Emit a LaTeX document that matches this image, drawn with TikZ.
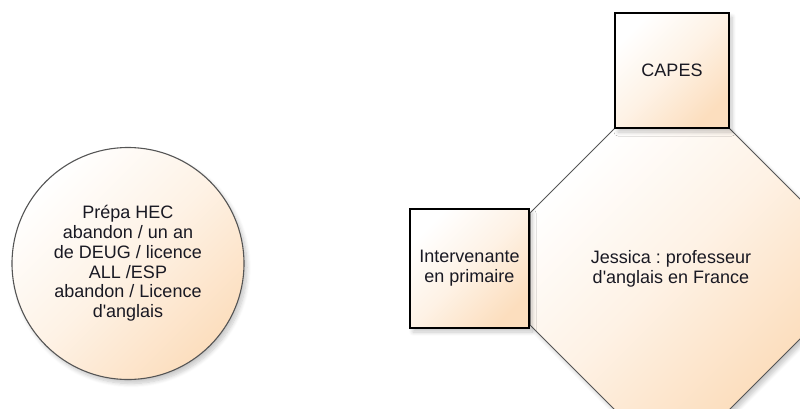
\documentclass[tikz,border=0pt]{standalone}
\usepackage{fontspec}
\setmainfont{Liberation Sans}
\usetikzlibrary{shadows.blur}
\definecolor{peach}{RGB}{252,222,190}
\definecolor{edgegray}{RGB}{85,85,85}
\definecolor{txtcol}{RGB}{25,25,35}
\frenchspacing
\begin{document}
\begin{tikzpicture}[x=1pt,y=-1pt,
  font=\fontsize{18}{19.8}\selectfont, text=txtcol,
  fillshade/.style={top color=white, bottom color=peach, middle color=peach!40!white, shading angle=45},
  softshadow/.style={blur shadow={shadow xshift=3pt, shadow yshift=-4pt, shadow blur steps=8, shadow blur radius=4pt, shadow opacity=22}},
  boxnode/.style={draw=black, line width=1.3pt, fillshade, softshadow, inner sep=0pt, align=center},
  txt/.style={align=center, inner sep=0pt}]
\clip (0,0) rectangle (800,408);
% left circle
\node[circle, draw=edgegray, line width=1.1pt, fillshade, softshadow, minimum size=232pt, inner sep=0pt, align=center]
  (prepa) at (128,263.5) {Prépa HEC\\abandon / un an\\de DEUG / licence\\ALL /ESP\\abandon / Licence\\d\textquotesingle anglais};
% octagon
\path[draw=edgegray, line width=1pt, fillshade, softshadow]
  (615,128) -- (729,128) -- (814,213) -- (814,325) -- (729,410) -- (615,410) -- (530,325) -- (530,213) -- cycle;
\node[txt] (jessica) at (671,269) {Jessica : professeur\\d\textquotesingle anglais en France};
% boxes
\node[boxnode, minimum width=114pt, minimum height=115pt] (capes) at (672,70.5) {CAPES};
\node[boxnode, minimum width=119pt, minimum height=119pt] (interv) at (469.5,268.5) {Intervenante\\en primaire};
\end{tikzpicture}
\end{document}
